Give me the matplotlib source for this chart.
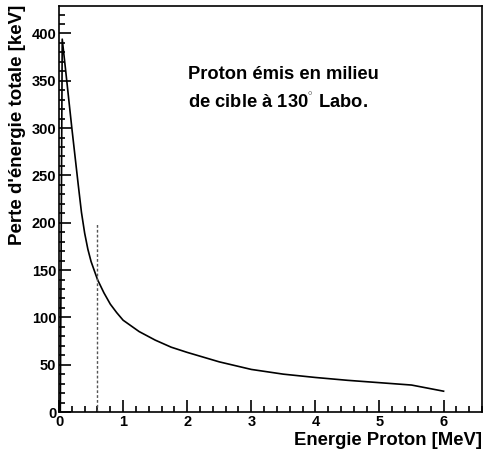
import matplotlib
matplotlib.use("Agg")
import matplotlib.pyplot as plt
from matplotlib.ticker import MultipleLocator

energy = [0.02, 0.05, 0.1, 0.2, 0.3, 0.35, 0.4, 0.45, 0.5, 0.6, 0.7, 0.8, 0.9, 1.0,
          1.25, 1.5, 1.75, 2.0, 2.5, 3.0, 3.5, 4.0, 4.5, 5.0, 5.5, 6.0]
loss = [0, 394, 363, 300, 240, 211, 189, 172, 159, 140, 126, 114, 105, 97,
        85, 76, 68.5, 63, 53, 45, 40, 36.5, 33.5, 31, 28.5, 22]
marker_x = [0.6, 0.6]
marker_y = [0, 200]

plt.rcParams['font.family'] = ['Liberation Sans', 'DejaVu Sans']
plt.rcParams['mathtext.fontset'] = 'custom'
plt.rcParams['mathtext.rm'] = 'Liberation Sans:bold'
plt.rcParams['mathtext.bf'] = 'Liberation Sans:bold'

fig = plt.figure(figsize=(4.83, 4.58), dpi=100)
ax = fig.add_axes([0.1222, 0.1004, 0.8758, 0.8865])

ax.plot(energy, loss, color='black', lw=1.2)
ax.plot(marker_x, marker_y, color='#555555', lw=1.0, ls=(0, (2, 1.5)))

ax.set_xlim(0, 6.6)
ax.set_ylim(0, 429)
ax.xaxis.set_major_locator(MultipleLocator(1))
ax.xaxis.set_minor_locator(MultipleLocator(0.2))
ax.yaxis.set_major_locator(MultipleLocator(50))
ax.yaxis.set_minor_locator(MultipleLocator(10))
ax.tick_params(which='both', direction='in', top=False, right=False, width=1.2)
ax.tick_params(which='major', length=8.5, labelsize=10.5, pad=2)
ax.tick_params(which='minor', length=4.3)
for lab in ax.get_xticklabels() + ax.get_yticklabels():
    lab.set_fontweight('bold')
for s in ax.spines.values():
    s.set_linewidth(1.2)

fig.text(0.998, 0.038, 'Energie Proton [MeV]', ha='right', va='center',
         fontsize=13.3, fontweight='bold')
fig.text(0.037, 0.99, "Perte d'énergie totale [keV]", ha='center', va='top',
         rotation=90, fontsize=13.5, fontweight='bold')
ax.text(0.305, 0.795, 'Proton émis en milieu\nde cible à 130$^{^{\\circ}}$ Labo.',
        transform=ax.transAxes, ha='left', va='center', fontsize=13.2,
        fontweight='bold', linespacing=1.6)

fig.savefig('out.png', dpi=100)
